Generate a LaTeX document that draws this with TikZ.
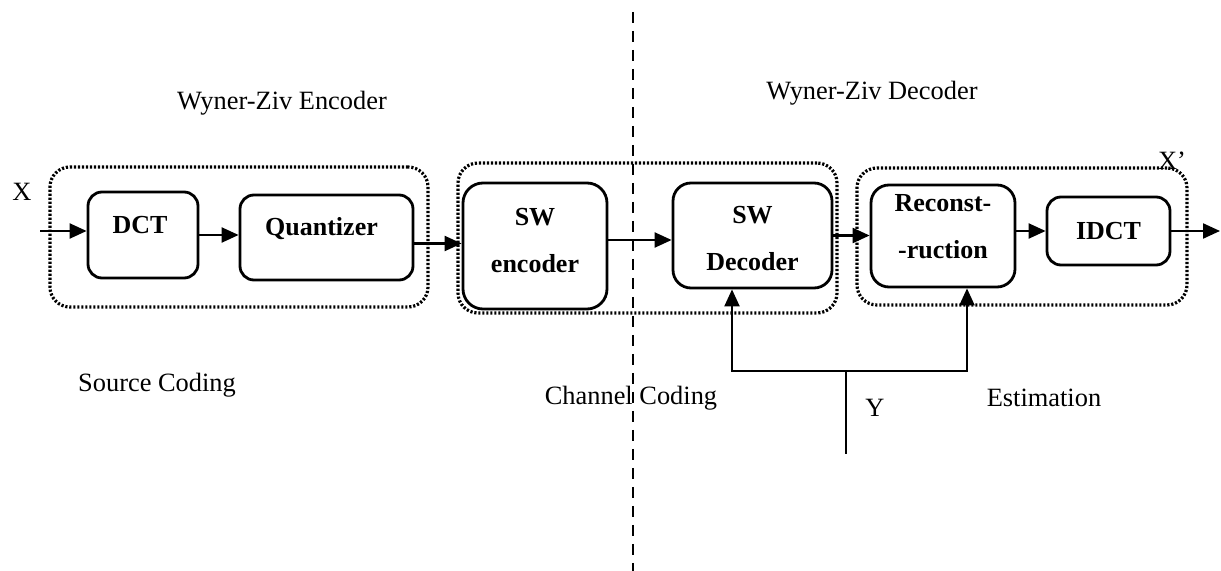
\documentclass[tikz,border=0pt]{standalone}
\usepackage{fontspec}
\setmainfont{Liberation Serif}
\usetikzlibrary{arrows.meta}
\begin{document}
\begin{tikzpicture}[x=0.5pt,y=-0.5pt,
  blk/.style={draw,line width=1.4pt,rounded corners=7pt,inner sep=0pt},
  grp/.style={draw,line width=1.6pt,dash pattern=on 1.1pt off 0.9pt,rounded corners=10pt,inner sep=0pt},
  lbl/.style={font=\fontsize{13}{23.5}\selectfont\bfseries,align=center,inner sep=0pt},
  txt/.style={font=\fontsize{13.2}{16}\selectfont,inner sep=0pt},
  flow/.style={line width=1.1pt,-{Triangle[length=8.5pt,width=7.5pt]}},
  wire/.style={line width=1.1pt}]
\useasboundingbox (0,0) rectangle (1221,571);

% dashed separator between encoder and decoder
\coordinate (septop) at (633,12);
\coordinate (sepbot) at (633,571);
\draw[line width=1.1pt,dash pattern=on 5.5pt off 4pt] (septop) -- (sepbot);

% dotted stage groups
\node[grp,minimum width=189pt,minimum height=70pt] (gsrc) at (239,237) {};
\node[grp,minimum width=189.5pt,minimum height=75pt] (gchan) at (647.5,238) {};
\node[grp,minimum width=165pt,minimum height=68.5pt] (gest) at (1022,236.5) {};

% processing blocks
\node[blk,minimum width=55pt,minimum height=43pt,
      label={[lbl,yshift=5pt,xshift=-1.5pt]center:DCT}] (dct) at (143,235) {};
\node[blk,minimum width=86.5pt,minimum height=42.5pt,
      label={[lbl,yshift=4.5pt,xshift=-2.5pt]center:Quantizer}] (quant) at (326.5,237.5) {};
\node[blk,minimum width=72pt,minimum height=63pt,rounded corners=10pt,
      label={[lbl,yshift=2.5pt]center:SW\\encoder}] (swenc) at (535,246) {};
\node[blk,minimum width=79.5pt,minimum height=52.5pt,rounded corners=9pt,
      label={[lbl,yshift=-1.5pt]center:SW\\Decoder}] (swdec) at (752.5,235.5) {};
\node[blk,minimum width=72pt,minimum height=51pt,rounded corners=9pt,
      label={[lbl,yshift=4.5pt]center:Reconst-\\-ruction}] (rec) at (943,236) {};
\node[blk,minimum width=61.5pt,minimum height=34pt,
      label={[lbl,yshift=0pt]center:IDCT}] (idct) at (1108.5,231) {};

% main signal path
\coordinate (xin) at (40,231);
\coordinate (xout) at (1220,231);
\draw[flow] (xin) -- (xin -| dct.west);
\draw[flow] (dct.east) -- (dct.east -| quant.west);
\draw[flow] ([yshift=-3pt]quant.east) -- ([yshift=-3pt]quant.east -| swenc.west);
\draw[flow] ([yshift=3pt]swenc.east) -- ([yshift=3pt]swenc.east -| swdec.west);
\draw[flow] (swdec.east) -- (swdec.east -| rec.west);
\draw[flow] (idct.west -| rec.east) -- (idct.west);
\draw[flow] (idct.east) -- (xout);

% side information Y
\coordinate (ybot) at (846,454);
\coordinate (yjoin) at (846,371);
\coordinate (yleft) at (732,371);
\coordinate (yright) at (967,371);
\draw[wire] (ybot) -- (yjoin);
\draw[flow] (yjoin) -- (yleft) -- (yleft |- swdec.south);
\draw[flow] (yjoin) -- (yright) -- (yright |- rec.south);

% captions
\node[txt] (lx) at (22,192) {X};
\node[txt] (lxp) at (1172,161) {X’};
\node[txt] (ly) at (875,408) {Y};
\node[txt] (lenc) at (282,103) {Wyner-Ziv Encoder};
\node[txt] (ldec) at (872,93) {Wyner-Ziv Decoder};
\node[txt] (lsrc) at (157,385) {Source Coding};
\node[txt] (lchan) at (631,398) {Channel Coding};
\node[txt] (lestm) at (1044,398) {Estimation};
\end{tikzpicture}
\end{document}
